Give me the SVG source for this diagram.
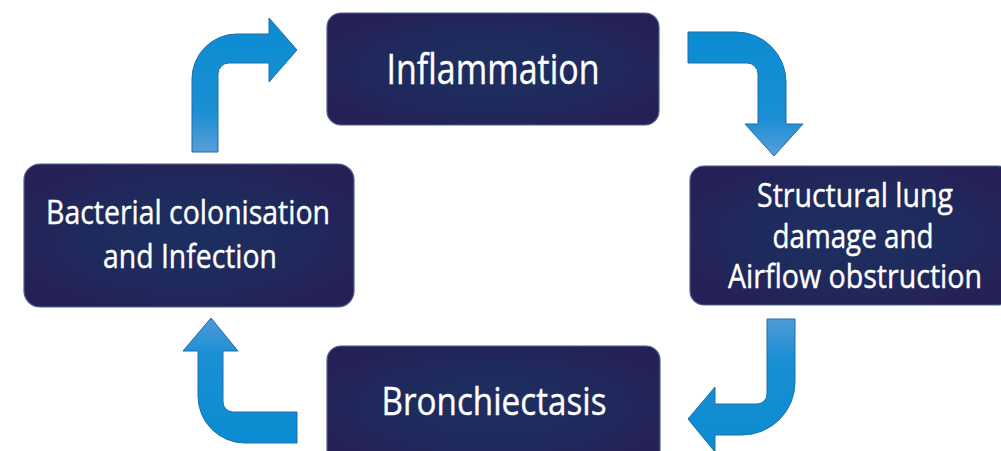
<svg xmlns="http://www.w3.org/2000/svg" width="1001" height="451" viewBox="0 0 1001 451">
  <defs>
    <radialGradient id="boxFill" cx="0.5" cy="0.5" r="0.6">
      <stop offset="0" stop-color="#1d2e60"/>
      <stop offset="0.55" stop-color="#1f2a5c"/>
      <stop offset="1" stop-color="#262056"/>
    </radialGradient>
    <linearGradient id="arrowTailBottom" x1="0" y1="0" x2="0" y2="1">
      <stop offset="0" stop-color="#0a8cd2"/>
      <stop offset="0.7" stop-color="#1a8fd4"/>
      <stop offset="1" stop-color="#5a9dd6"/>
    </linearGradient>
    <linearGradient id="arrowTailTop" x1="0" y1="1" x2="0" y2="0">
      <stop offset="0" stop-color="#0a8cd2"/>
      <stop offset="0.7" stop-color="#1a8fd4"/>
      <stop offset="1" stop-color="#4f9ad6"/>
    </linearGradient>
  </defs>
  <style>
    .box { fill: url(#boxFill); stroke: #4d6190; stroke-width: 1.2; }
    .label { font-family: "Open Sans", "Noto Sans", "Liberation Sans", sans-serif; fill: #ffffff; stroke: #ffffff; stroke-width: 0.4; text-anchor: middle; }
    .arrow { stroke: #1f6ea8; stroke-width: 1; stroke-linejoin: miter; }
  </style>
  <rect width="1001" height="451" fill="#ffffff"/>

  <g id="connectors">
    <path class="arrow" fill="url(#arrowTailBottom)" d="M192,152 L192,79 A45,45 0 0 1 237,34 L269,34 L269,18 L297,50 L269,82 L269,63 L229,63 A11,11 0 0 0 218,74 L218,152 Z"/>
    <path class="arrow" fill="url(#arrowTailBottom)" d="M688,32 L736,32 A50,50 0 0 1 786,82 L786,124 L803,124 L774,156 L745,124 L758,124 L758,74 A11,11 0 0 0 747,63 L688,63 Z"/>
    <path class="arrow" fill="url(#arrowTailTop)" d="M795,319 L795,382 A53,53 0 0 1 742,435 L715,435 L715,452 L688,419 L715,387 L715,404 L757,404 A10,10 0 0 0 767,394 L767,319 Z"/>
    <path class="arrow" fill="url(#arrowTailTop)" d="M297,412 L297,443 L245,443 A47,47 0 0 1 198,396 L198,351 L183,351 L211,318 L238,351 L223,351 L223,402 A10,10 0 0 0 233,412 Z"/>
  </g>

  <g id="inflammation">
    <rect class="box" x="327" y="13" width="332" height="112" rx="14"/>
    <text class="label" x="493" y="84" font-size="42" textLength="213" lengthAdjust="spacingAndGlyphs">Inflammation</text>
  </g>

  <g id="structural">
    <rect class="box" x="690" y="166" width="322" height="139" rx="14"/>
    <text class="label" x="855" y="207" font-size="33" textLength="196" lengthAdjust="spacingAndGlyphs">Structural lung</text>
    <text class="label" x="853" y="248" font-size="33" textLength="161" lengthAdjust="spacingAndGlyphs">damage and</text>
    <text class="label" x="855" y="288" font-size="33" textLength="254" lengthAdjust="spacingAndGlyphs">Airflow obstruction</text>
  </g>

  <g id="bronchiectasis">
    <rect class="box" x="327" y="346" width="333" height="120" rx="14"/>
    <text class="label" x="494" y="415" font-size="39" textLength="225" lengthAdjust="spacingAndGlyphs">Bronchiectasis</text>
  </g>

  <g id="bacterial">
    <rect class="box" x="24" y="164" width="330" height="143" rx="16"/>
    <text class="label" x="188" y="224" font-size="33" textLength="284" lengthAdjust="spacingAndGlyphs">Bacterial colonisation</text>
    <text class="label" x="190" y="268" font-size="33" textLength="174" lengthAdjust="spacingAndGlyphs">and Infection</text>
  </g>
</svg>
